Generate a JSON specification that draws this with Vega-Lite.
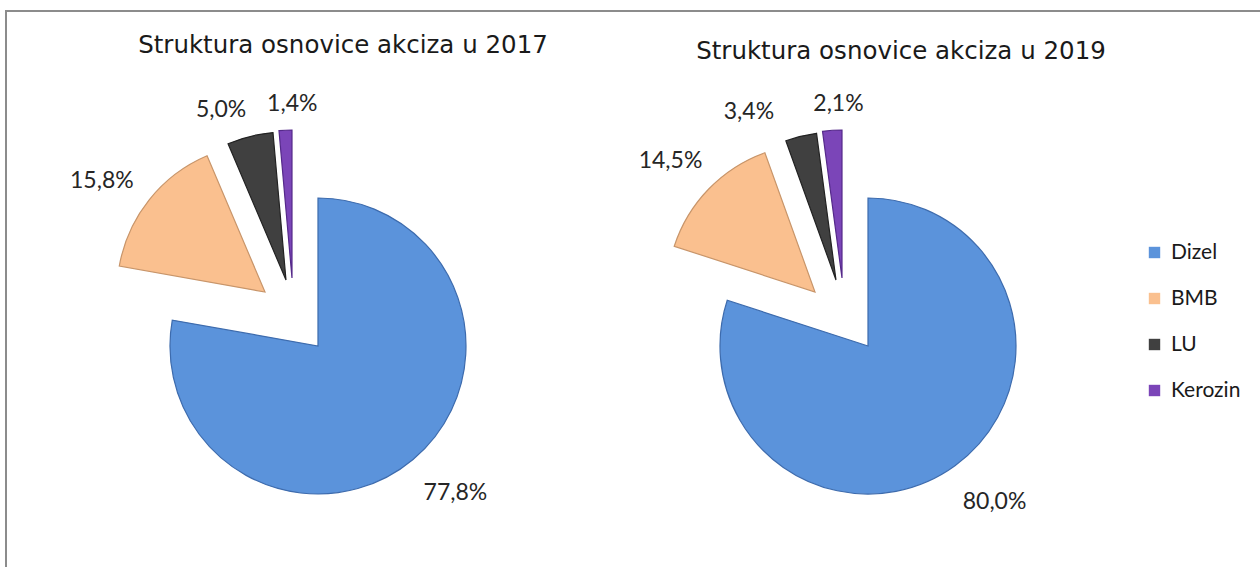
{
  "$schema": "https://vega.github.io/schema/vega-lite/v6.json",
  "width": 1302,
  "height": 670,
  "autosize": "none",
  "padding": {"left": 6, "top": 11, "right": 0, "bottom": 0},
  "background": "white",
  "title": {"text": "Grafikon 4", "anchor": "middle", "font": "DejaVu Sans", "fontSize": 20, "fontWeight": "normal", "color": "#1a1a1a", "baseline": "alphabetic", "offset": 4, "dx": -7},
  "config": {
    "view": {"stroke": "#8c8c8c", "strokeWidth": 2},
    "locale": {"number": {"decimal": ",", "thousands": ".", "grouping": [3], "currency": ["", " €"]}}
  },
  "data": {"values": [
    {"year": 2017, "fuel": "Dizel", "value": 0.778},
    {"year": 2017, "fuel": "BMB", "value": 0.158},
    {"year": 2017, "fuel": "LU", "value": 0.050},
    {"year": 2017, "fuel": "Kerozin", "value": 0.014},
    {"year": 2019, "fuel": "Dizel", "value": 0.800},
    {"year": 2019, "fuel": "BMB", "value": 0.145},
    {"year": 2019, "fuel": "LU", "value": 0.034},
    {"year": 2019, "fuel": "Kerozin", "value": 0.021}
  ]},
  "transform": [
    {"stack": "value", "groupby": ["year"], "sort": [{"field": "value", "order": "descending"}], "as": ["v0", "v1"]},
    {"calculate": "(datum.v0 + datum.v1) / 2", "as": "mid"}
  ],
  "encoding": {
    "x": {"field": "year", "type": "quantitative", "stack": null, "scale": {"domain": [2015.8655, 2020.6], "nice": false, "zero": false}, "axis": null}
  },
  "layer": [
    {
      "transform": [{"filter": "datum.fuel === 'Dizel'"}],
      "mark": {"type": "arc", "radius": 148, "stroke": "#3d6bad", "strokeWidth": 1.2},
      "encoding": {
        "theta": {"field": "v0", "type": "quantitative", "stack": null, "scale": {"domain": [0, 1]}},
        "theta2": {"field": "v1"},
        "color": {"field": "fuel", "type": "nominal", "scale": {"domain": ["Dizel", "BMB", "LU", "Kerozin"], "range": ["#5B93DB", "#FAC08F", "#404040", "#7B45B8"]},
          "legend": {"title": null, "orient": "none", "legendX": 1138, "legendY": 231, "symbolType": "square", "symbolSize": 130, "symbolStrokeWidth": 0, "symbolOpacity": 1, "labelFont": "Lato", "labelFontSize": 21, "labelColor": "#1a1a1a", "labelOffset": 6, "rowPadding": 24, "padding": 0}}
      }
    },
    {
      "transform": [{"filter": "datum.fuel === 'BMB'"}],
      "mark": {"type": "arc", "radius": 148, "stroke": "#c8956a", "strokeWidth": 1.2, "xOffset": -53, "yOffset": -54},
      "encoding": {
        "theta": {"field": "v0", "type": "quantitative", "stack": null},
        "theta2": {"field": "v1"},
        "color": {"field": "fuel", "type": "nominal"}
      }
    },
    {
      "transform": [{"filter": "datum.fuel === 'LU'"}],
      "mark": {"type": "arc", "radius": 148, "stroke": "#222222", "strokeWidth": 1.2, "xOffset": -32, "yOffset": -66},
      "encoding": {
        "theta": {"field": "v0", "type": "quantitative", "stack": null},
        "theta2": {"field": "v1"},
        "color": {"field": "fuel", "type": "nominal"}
      }
    },
    {
      "transform": [{"filter": "datum.fuel === 'Kerozin'"}],
      "mark": {"type": "arc", "radius": 148, "stroke": "#55298a", "strokeWidth": 1.2, "xOffset": -26, "yOffset": -68},
      "encoding": {
        "theta": {"field": "v0", "type": "quantitative", "stack": null},
        "theta2": {"field": "v1"},
        "color": {"field": "fuel", "type": "nominal"}
      }
    },
    {
      "transform": [{"filter": "datum.fuel === 'Dizel'"}],
      "mark": {"type": "text", "radius": 200, "dx": 9, "dy": -6, "font": "Lato", "fontSize": 23, "color": "#262626", "align": "center", "baseline": "middle"},
      "encoding": {
        "theta": {"field": "mid", "type": "quantitative", "stack": null},
        "text": {"field": "value", "type": "quantitative", "format": ".1%"}
      }
    },
    {
      "transform": [{"filter": "datum.fuel === 'BMB' && datum.year === 2017"}],
      "mark": {"type": "text", "radius": 197, "xOffset": -53, "yOffset": -54, "dx": -9, "dy": 12, "font": "Lato", "fontSize": 23, "color": "#262626", "align": "center", "baseline": "middle"},
      "encoding": {
        "theta": {"field": "mid", "type": "quantitative", "stack": null},
        "text": {"field": "value", "type": "quantitative", "format": ".1%"}
      }
    },
    {
      "transform": [{"filter": "datum.fuel === 'BMB' && datum.year === 2019"}],
      "mark": {"type": "text", "radius": 197, "xOffset": -53, "yOffset": -54, "dx": -3, "dy": 6, "font": "Lato", "fontSize": 23, "color": "#262626", "align": "center", "baseline": "middle"},
      "encoding": {
        "theta": {"field": "mid", "type": "quantitative", "stack": null},
        "text": {"field": "value", "type": "quantitative", "format": ".1%"}
      }
    },
    {
      "transform": [{"filter": "datum.fuel === 'LU' && datum.year === 2017"}],
      "mark": {"type": "text", "radius": 181, "xOffset": -32, "yOffset": -66, "dx": -21, "dy": 6, "font": "Lato", "fontSize": 23, "color": "#262626", "align": "center", "baseline": "middle"},
      "encoding": {
        "theta": {"field": "mid", "type": "quantitative", "stack": null},
        "text": {"field": "value", "type": "quantitative", "format": ".1%"}
      }
    },
    {
      "transform": [{"filter": "datum.fuel === 'LU' && datum.year === 2019"}],
      "mark": {"type": "text", "radius": 182, "xOffset": -32, "yOffset": -66, "dx": -44, "dy": 9, "font": "Lato", "fontSize": 23, "color": "#262626", "align": "center", "baseline": "middle"},
      "encoding": {
        "theta": {"field": "mid", "type": "quantitative", "stack": null},
        "text": {"field": "value", "type": "quantitative", "format": ".1%"}
      }
    },
    {
      "transform": [{"filter": "datum.fuel === 'Kerozin'"}],
      "mark": {"type": "text", "radius": 175, "xOffset": -26, "yOffset": -68, "dx": 8, "dy": 1, "font": "Lato", "fontSize": 23, "color": "#262626", "align": "center", "baseline": "middle"},
      "encoding": {
        "theta": {"field": "mid", "type": "quantitative", "stack": null},
        "text": {"field": "value", "type": "quantitative", "format": ".1%"}
      }
    },
    {
      "data": {"values": [
        {"year": 2017, "title": "Struktura osnovice akciza u 2017"}
      ]},
      "transform": [],
      "mark": {"type": "text", "dx": 25, "dy": 42, "font": "DejaVu Sans", "fontSize": 24.5, "color": "#1a1a1a", "align": "center", "baseline": "alphabetic"},
      "encoding": {
        "y": {"datum": 1, "type": "quantitative", "scale": {"domain": [0, 1], "nice": false}, "axis": null},
        "text": {"field": "title", "type": "nominal"}
      }
    },
    {
      "data": {"values": [
        {"year": 2019, "title": "Struktura osnovice akciza u 2019"}
      ]},
      "transform": [],
      "mark": {"type": "text", "dx": 33, "dy": 48, "font": "DejaVu Sans", "fontSize": 24.5, "color": "#1a1a1a", "align": "center", "baseline": "alphabetic"},
      "encoding": {
        "y": {"datum": 1, "type": "quantitative"},
        "text": {"field": "title", "type": "nominal"}
      }
    }
  ]
}
